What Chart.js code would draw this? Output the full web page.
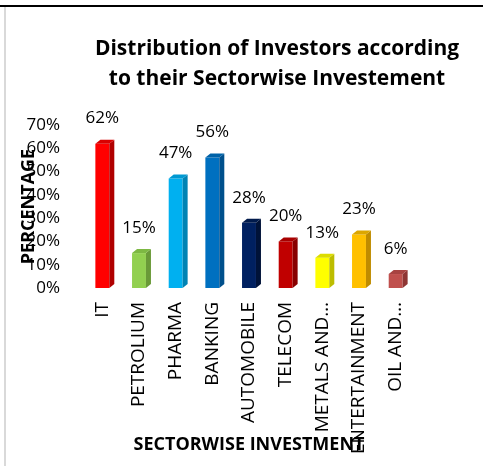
<!DOCTYPE html>
<html lang="en">
<head>
<meta charset="UTF-8">
<title>Distribution of Investors according to their Sectorwise Investement</title>
<script src="https://cdn.jsdelivr.net/npm/chart.js@4.4.0/dist/chart.umd.min.js"></script>
<style>
*{box-sizing:border-box;margin:0;padding:0}
body{background:#fff;width:483px;height:466px;overflow:hidden;position:relative}
.topline{position:absolute;left:0;top:5px;width:483px;height:2px;background:#000}
.leftline{position:absolute;left:4px;top:7px;width:2px;height:459px;background:#d9d9d9}
.wrap{position:absolute;left:0;top:0;width:483px;height:466px}
</style>
</head>
<body>
<div class="topline"></div>
<div class="leftline"></div>
<div class="wrap"><canvas id="chart"></canvas></div>
<script>
const sectors = ["IT", "PETROLIUM", "PHARMA", "BANKING", "AUTOMOBILE", "TELECOM", "METALS AND…", "ENTERTAINMENT", "OIL AND…"];
const investors = [62, 15, 47, 56, 28, 20, 13, 23, 6];
const yTicks = [0, 10, 20, 30, 40, 50, 60, 70];
const titleLines = ["Distribution of Investors according", "to their Sectorwise Investement"];

const frontColors = ["#ff0000", "#92d050", "#00b0f0", "#0070c0", "#002060", "#c00000", "#ffff00", "#ffc000", "#c0504d"];
const sideColors  = ["#b00000", "#6a9a38", "#0083b4", "#00508c", "#001238", "#880000", "#bdbd00", "#bf8c00", "#8e3634"];
const topColors   = ["#d80000", "#7db843", "#0099d2", "#0062a8", "#001a4c", "#a80000", "#dcdc00", "#dca600", "#a84341"];

const FONT = "'Open Sans', sans-serif";

// side + top faces and the value labels
const bars3d = {
  id: "bars3d",
  afterDatasetsDraw(chart) {
    const ctx = chart.ctx;
    const meta = chart.getDatasetMeta(0);
    const dx = 5, dy = 4;
    ctx.save();
    meta.data.forEach((bar, i) => {
      const { x, y, base, width } = bar.getProps(["x", "y", "base", "width"], true);
      const l = x - width / 2, r = x + width / 2;
      ctx.fillStyle = sideColors[i];
      ctx.beginPath();
      ctx.moveTo(r, y); ctx.lineTo(r + dx, y - dy); ctx.lineTo(r + dx, base - dy); ctx.lineTo(r, base);
      ctx.closePath(); ctx.fill();
      ctx.fillStyle = topColors[i];
      ctx.beginPath();
      ctx.moveTo(l, y); ctx.lineTo(l + dx, y - dy); ctx.lineTo(r + dx, y - dy); ctx.lineTo(r, y);
      ctx.closePath(); ctx.fill();
      ctx.fillStyle = "#000";
      ctx.font = "17px " + FONT;
      ctx.textAlign = "center";
      ctx.textBaseline = "middle";
      ctx.fillText(investors[i] + "%", x, y - 25);
    });
    ctx.restore();
  }
};

const headTitle = {
  id: "headTitle",
  afterDraw(chart) {
    const ctx = chart.ctx;
    ctx.save();
    ctx.fillStyle = "#000";
    ctx.font = "bold 21px " + FONT;
    ctx.textAlign = "center";
    ctx.textBaseline = "alphabetic";
    titleLines.forEach((t, i) => ctx.fillText(t, 277, 55 + i * 29.5));
    ctx.restore();
  }
};

new Chart(document.getElementById("chart"), {
  type: "bar",
  data: {
    labels: sectors,
    datasets: [{ data: investors, backgroundColor: frontColors, borderWidth: 0, barPercentage: 0.38, categoryPercentage: 1 }]
  },
  options: {
    responsive: true, maintainAspectRatio: false, animation: false,
    layout: { padding: { top: 125, left: 18, right: 69, bottom: 10 } },
    plugins: { legend: { display: false }, tooltip: { enabled: false } },
    scales: {
      x: {
        grid: { display: false, drawTicks: false },
        border: { display: false },
        ticks: { color: "#000", font: { family: FONT, size: 19 }, minRotation: 90, maxRotation: 90, autoSkip: false, padding: 14 },
        title: { display: true, text: "SECTORWISE INVESTMENT", color: "#000", font: { family: FONT, size: 18, weight: "bold" }, padding: 0 },
        afterFit: s => { s.height = 168; }
      },
      y: {
        min: 0, max: 70,
        grid: { display: false, drawTicks: false },
        border: { display: false },
        afterBuildTicks: s => { s.ticks = yTicks.map(v => ({ value: v })); },
        ticks: { color: "#000", font: { family: FONT, size: 17 }, padding: 24, autoSkip: false, callback: v => v + "%" },
        title: { display: true, text: "PERCENTAGE", color: "#000", font: { family: FONT, size: 18, weight: "bold" }, padding: 0 },
        afterFit: s => { s.width = 66; }
      }
    }
  },
  plugins: [bars3d, headTitle]
});
</script>
</body>
</html>
